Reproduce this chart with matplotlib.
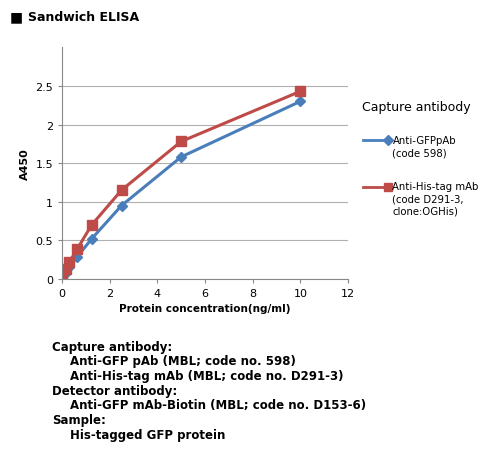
import matplotlib
matplotlib.use("Agg")
import matplotlib.pyplot as plt

conc = [0, 0.156, 0.3125, 0.625, 1.25, 2.5, 5, 10]
gfp_pab = [0.02, 0.08, 0.15, 0.28, 0.52, 0.95, 1.58, 2.30]
his_mab = [0.03, 0.13, 0.22, 0.38, 0.70, 1.15, 1.78, 2.43]

BLUE = "#4a7ebb"
RED = "#be4b48"

fig = plt.figure(figsize=(5, 4.52), dpi=100)
fig.patch.set_facecolor("white")

ax = fig.add_axes([0.124, 0.381, 0.572, 0.512])
ax.plot(conc, gfp_pab, color=BLUE, lw=2.2, marker="D", ms=5)
ax.plot(conc, his_mab, color=RED, lw=2.2, marker="s", ms=6.5)
ax.set_xlim(0, 12)
ax.set_ylim(0, 3)
ax.set_xticks(range(0, 13, 2))
ax.set_yticks([0, 0.5, 1, 1.5, 2, 2.5])
ax.set_yticklabels(["0", "0.5", "1", "1.5", "2", "2.5"])
ax.grid(axis="y", color="#b0b0b0", lw=0.8)
ax.set_axisbelow(True)
for s in ["top", "right"]:
    ax.spines[s].set_visible(False)
for s in ["left", "bottom"]:
    ax.spines[s].set_color("#888888")
ax.tick_params(labelsize=8, length=3, color="#888888")
ax.set_xlabel("Protein concentration(ng/ml)", fontsize=7.5, fontweight="bold")
ax.set_ylabel("A450", fontsize=8, fontweight="bold")

fig.text(0.02, 0.962, "■", fontsize=10, va="center")
fig.text(0.055, 0.962, "Sandwich ELISA", fontsize=9, fontweight="bold", va="center")

fig.text(0.725, 0.755, "Capture antibody", fontsize=9)
fig.lines.append(plt.Line2D([0.725, 0.775], [0.688, 0.688], color=BLUE, lw=2,
                            marker="D", ms=5, markevery=[1], transform=fig.transFigure))
fig.text(0.785, 0.700, "Anti-GFPpAb\n(code 598)", fontsize=7.3, va="top", linespacing=1.3)
fig.lines.append(plt.Line2D([0.725, 0.775], [0.585, 0.585], color=RED, lw=2,
                            marker="s", ms=6, markevery=[1], transform=fig.transFigure))
fig.text(0.785, 0.598, "Anti-His-tag mAb\n(code D291-3,\nclone:OGHis)", fontsize=7.3,
         va="top", linespacing=1.3)

lines = [
    ("Capture antibody:", 0.105),
    ("Anti-GFP pAb (MBL; code no. 598)", 0.14),
    ("Anti-His-tag mAb (MBL; code no. D291-3)", 0.14),
    ("Detector antibody:", 0.105),
    ("Anti-GFP mAb-Biotin (MBL; code no. D153-6)", 0.14),
    ("Sample:", 0.105),
    ("His-tagged GFP protein", 0.14),
]
y = 0.232
for txt, x in lines:
    fig.text(x, y, txt, fontsize=8.5, fontweight="bold", va="center")
    y -= 0.0325

fig.savefig("out.png", dpi=100)
